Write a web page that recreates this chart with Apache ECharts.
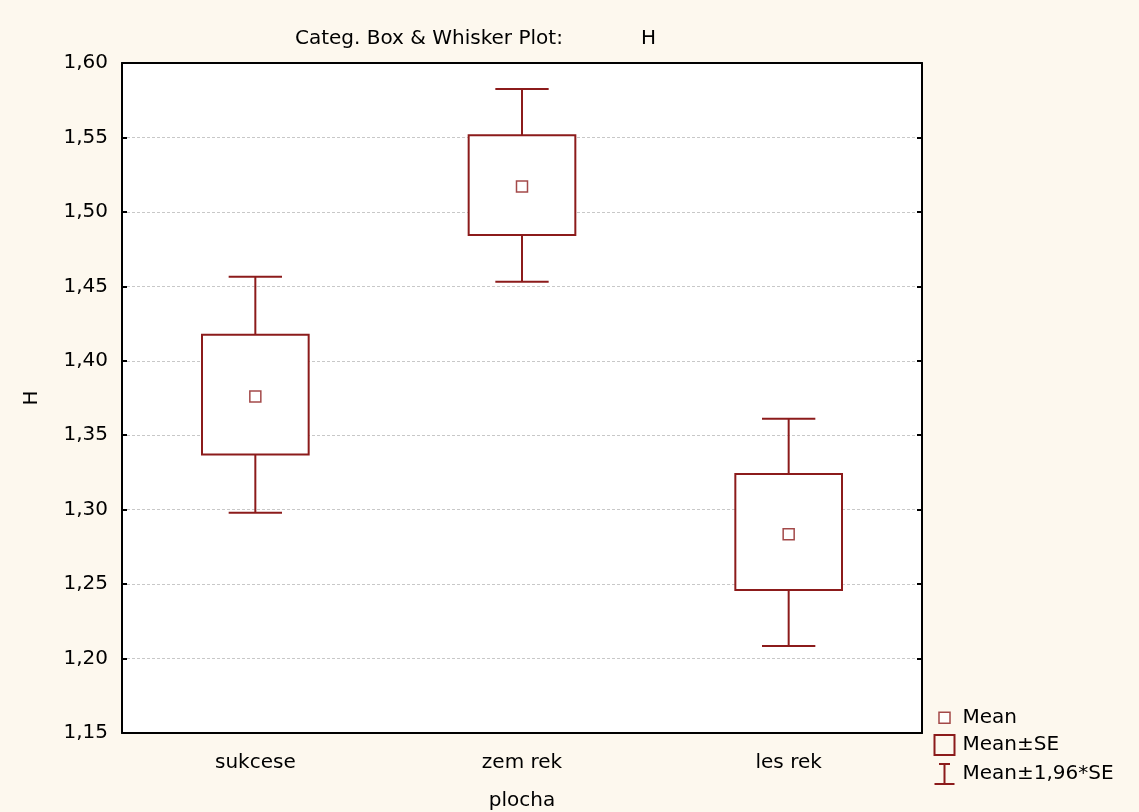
<!DOCTYPE html>
<html>
<head>
<meta charset="utf-8">
<title>Categ. Box & Whisker Plot: H</title>
<script src="https://cdn.jsdelivr.net/npm/echarts@6/dist/echarts.min.js"></script>
<style>
  html, body { margin: 0; padding: 0; background: #fdf8ee; }
  #chart { width: 1139px; height: 812px; }
</style>
</head>
<body>
<div id="chart"></div>
<script>
// categories on x (plocha)
const categories = ['sukcese', 'zem rek', 'les rek']
// mean of H per category
const means = [1.376, 1.517, 1.2835]
// mean - SE / mean + SE (box)
const seLow = [1.337, 1.4845, 1.246]
const seHigh = [1.4175, 1.5515, 1.324]
// mean -/+ 1.96*SE (whiskers)
const ciLow = [1.298, 1.453, 1.2085]
const ciHigh = [1.4565, 1.5825, 1.361]

const RED = '#8c1b1b'
const FONT = '"DejaVu Sans", Arial, sans-serif'
const FS = 20

const chart = echarts.init(document.getElementById('chart'))

const fmt = v => v.toFixed(2).replace('.', ',')

const option = {
  backgroundColor: '#fdf8ee',
  animation: false,
  textStyle: { fontFamily: FONT },
  title: [
    {
      text: 'Categ. Box & Whisker Plot:',
      left: 295,
      top: 29,
      padding: 0,
      textStyle: { fontFamily: FONT, fontSize: FS, fontWeight: 'normal', color: '#000' }
    },
    {
      text: 'H',
      left: 641,
      top: 29,
      padding: 0,
      textStyle: { fontFamily: FONT, fontSize: FS, fontWeight: 'normal', color: '#000' }
    }
  ],
  legend: {
    orient: 'vertical',
    left: 932,
    top: 707,
    padding: 0,
    itemWidth: 20,
    itemHeight: 20,
    itemGap: 4,
    selectedMode: false,
    textStyle: { fontFamily: FONT, fontSize: FS, lineHeight: 20, color: '#000', padding: [0, 0, 0, 3] },
    data: [
      {
        name: 'Mean',
        icon: 'path://M0,0M20,20M4.5,4.5h11v11h-11z',
        itemStyle: { color: '#fff', borderColor: RED, borderWidth: 1.5 }
      },
      {
        name: 'Mean±SE',
        icon: 'path://M0,0h20v20h-20z',
        itemStyle: { color: 'none', borderColor: RED, borderWidth: 2 }
      },
      {
        name: 'Mean±1,96*SE',
        icon: 'path://M0,0M20,20M4.5,0h11M10,0v20M0,20h20',
        itemStyle: { color: 'none', borderColor: RED, borderWidth: 2 }
      }
    ]
  },
  grid: {
    left: 122,
    right: 217,
    top: 63,
    bottom: 79,
    outerBoundsMode: 'none',
    show: true,
    backgroundColor: '#fff',
    borderWidth: 0
  },
  xAxis: [
    {
      type: 'category',
      data: categories,
      name: 'plocha',
      nameLocation: 'middle',
      nameGap: 58,
      nameTextStyle: { fontFamily: FONT, fontSize: FS, color: '#000' },
      axisLine: { lineStyle: { color: '#000', width: 2 } },
      axisTick: { inside: true, alignWithLabel: true, length: 6, lineStyle: { color: '#000' } },
      axisLabel: { fontFamily: FONT, fontSize: FS, color: '#000', margin: 20 },
      splitLine: { show: false }
    },
    {
      type: 'category',
      data: categories,
      position: 'top',
      axisLine: { lineStyle: { color: '#000', width: 2 } },
      axisTick: { inside: true, alignWithLabel: true, length: 6, lineStyle: { color: '#000' } },
      axisLabel: { show: false },
      splitLine: { show: false }
    }
  ],
  yAxis: [
    {
      type: 'value',
      min: 1.15,
      max: 1.6,
      interval: 0.05,
      name: 'H',
      nameLocation: 'middle',
      nameGap: 80,
      nameTextStyle: { fontFamily: FONT, fontSize: FS, color: '#000' },
      axisLine: { show: true, lineStyle: { color: '#000', width: 2 } },
      axisTick: { show: true, inside: true, length: 5, lineStyle: { color: '#000', width: 2 } },
      axisLabel: { fontFamily: FONT, fontSize: FS, color: '#000', margin: 14, formatter: fmt },
      splitLine: { show: true, lineStyle: { color: '#c8c8c8', type: [3, 2], width: 1 } }
    },
    {
      type: 'value',
      min: 1.15,
      max: 1.6,
      interval: 0.05,
      position: 'right',
      axisLine: { show: true, lineStyle: { color: '#000', width: 2 } },
      axisTick: { show: true, inside: true, length: 5, lineStyle: { color: '#000', width: 2 } },
      axisLabel: { show: false },
      splitLine: { show: false }
    }
  ],
  series: [
    {
      name: 'Mean±1,96*SE',
      type: 'custom',
      silent: true,
      z: 2,
      encode: { x: 0, y: [1, 2] },
      data: categories.map((c, i) => [i, ciLow[i], ciHigh[i]]),
      renderItem (params, api) {
        const lo = api.coord([api.value(0), api.value(1)])
        const hi = api.coord([api.value(0), api.value(2)])
        const half = api.size([1, 0])[0] * 0.1
        const style = { stroke: RED, lineWidth: 2, fill: null }
        return {
          type: 'group',
          children: [
            { type: 'line', shape: { x1: lo[0], y1: lo[1], x2: hi[0], y2: hi[1] }, style },
            { type: 'line', shape: { x1: hi[0] - half, y1: hi[1], x2: hi[0] + half, y2: hi[1] }, style },
            { type: 'line', shape: { x1: lo[0] - half, y1: lo[1], x2: lo[0] + half, y2: lo[1] }, style }
          ]
        }
      }
    },
    {
      name: 'Mean±SE',
      type: 'custom',
      silent: true,
      z: 3,
      encode: { x: 0, y: [1, 2] },
      data: categories.map((c, i) => [i, seLow[i], seHigh[i]]),
      renderItem (params, api) {
        const lo = api.coord([api.value(0), api.value(1)])
        const hi = api.coord([api.value(0), api.value(2)])
        const w = api.size([1, 0])[0] * 0.4
        return {
          type: 'rect',
          shape: { x: lo[0] - w / 2, y: hi[1], width: w, height: lo[1] - hi[1] },
          style: { fill: '#fff', stroke: RED, lineWidth: 2 }
        }
      }
    },
    {
      name: 'Mean',
      type: 'scatter',
      silent: true,
      z: 4,
      symbol: 'rect',
      symbolSize: 11,
      itemStyle: { color: '#fff', borderColor: RED, borderWidth: 1.5 },
      data: categories.map((c, i) => [i, means[i]])
    }
  ]
}

chart.setOption(option)
</script>
</body>
</html>
